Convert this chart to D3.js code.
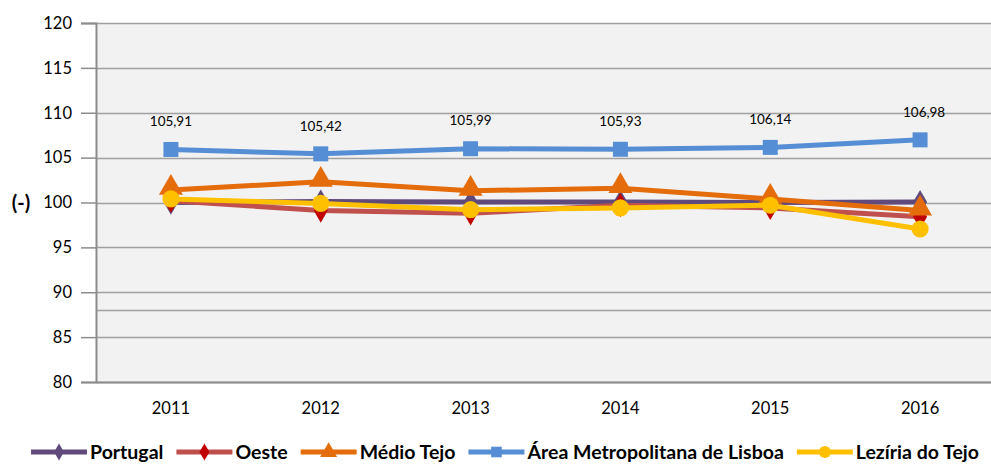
<!DOCTYPE html>
<html><head><meta charset="utf-8">
<script src="https://cdn.jsdelivr.net/npm/d3@7"></script>
<style>body{margin:0;background:#fff}svg{display:block}</style>
</head><body>
<svg id="c" width="991" height="464"></svg>
<script>
const years = ["2011","2012","2013","2014","2015","2016"];
const yTicks = [80,85,90,95,100,105,110,115,120];
const extraGrid = [88];
const portugal = [100.0, 100.1, 100.05, 100.05, 100.0, 100.05];
const oeste = [100.2, 99.1, 98.8, 99.7, 99.4, 98.4];
const medioTejo = [101.4, 102.3, 101.3, 101.6, 100.4, 99.1];
const lisboa = [105.91, 105.42, 105.99, 105.93, 106.14, 106.98];
const leziria = [100.4, 99.9, 99.2, 99.4, 99.7, 97.05];
const lisboaLabels = ["105,91","105,42","105,99","105,93","106,14","106,98"];

const series = [
  {name:"Portugal", values:portugal, color:"#604a7b", mcolor:"#604a7b", marker:"diamond"},
  {name:"Oeste", values:oeste, color:"#c0504d", mcolor:"#c00000", marker:"diamond"},
  {name:"Médio Tejo", values:medioTejo, color:"#e46c0a", mcolor:"#e46c0a", marker:"triangle"},
  {name:"Área Metropolitana de Lisboa", values:lisboa, color:"#558ed5", mcolor:"#558ed5", marker:"square"},
  {name:"Lezíria do Tejo", values:leziria, color:"#ffc000", mcolor:"#ffc000", marker:"circle"}
];

const svg = d3.select("#c");
const L = 96, R = 995, T = 23, B = 382;
const x = d3.scaleBand().domain(years).range([L, R]);
const cx = d => x(d) + x.bandwidth()/2;
const y = d3.scaleLinear().domain([80,120]).range([B, T]);
const font = "Lato, 'Open Sans', sans-serif";

svg.append("rect").attr("x", L).attr("y", T).attr("width", R-L).attr("height", B-T).attr("fill", "#f2f2f2");

// gridlines
svg.append("g").selectAll("line").data(yTicks.concat(extraGrid)).join("line")
  .attr("x1", L).attr("x2", R).attr("y1", d=>Math.round(y(d))+0.5).attr("y2", d=>Math.round(y(d))+0.5)
  .attr("stroke", "#a0a0a0").attr("stroke-width", 1.5);

// y axis
const ya = svg.append("g").attr("transform", `translate(${L},0)`)
  .call(d3.axisLeft(y).tickValues(yTicks).tickSize(15).tickPadding(9).tickFormat(d3.format("d")));
ya.select(".domain").attr("stroke", "#8c8c8c").attr("stroke-width", 2);
ya.selectAll(".tick line").attr("stroke", "#8c8c8c").attr("stroke-width", 1.5);
ya.selectAll("text").attr("font-family", font).attr("font-size", 16.5).attr("fill", "#000");

// x axis
const xa = svg.append("g").attr("transform", `translate(0,${B})`)
  .call(d3.axisBottom(x).tickSize(0).tickPadding(20));
xa.select(".domain").attr("stroke", "#8c8c8c").attr("stroke-width", 2);
xa.selectAll("text").attr("font-family", font).attr("font-size", 16.5).attr("fill", "#000");

svg.append("text").attr("x", 21).attr("y", y(100)).attr("dy", "0.35em").attr("text-anchor", "middle")
  .attr("font-family", font).attr("font-weight", "bold").attr("font-size", 20).text("(-)");

function markerPath(type, size) {
  const m = {diamond:d3.symbolDiamond, triangle:d3.symbolTriangle, square:d3.symbolSquare, circle:d3.symbolCircle}[type];
  return d3.symbol().type(m).size(size)();
}
const msize = {diamond:170, triangle:250, square:225, circle:230};

const line = d3.line().x((d,i)=>cx(years[i])).y(d=>y(d));
series.forEach(s => {
  const g = svg.append("g");
  g.append("path").attr("d", line(s.values)).attr("fill", "none").attr("stroke", s.color)
    .attr("stroke-width", 5).attr("stroke-linejoin", "round");
  g.selectAll("path.m").data(s.values).join("path").attr("class", "m")
    .attr("transform", (d,i)=>`translate(${cx(years[i])},${y(d) + (s.marker==="triangle"?-2:0)})`)
    .attr("d", markerPath(s.marker, msize[s.marker])).attr("fill", s.mcolor);
});

// data labels for Lisboa
svg.append("g").selectAll("text").data(lisboa).join("text")
  .attr("x", (d,i)=>cx(years[i]) + (i===5?4:0)).attr("y", d=>y(d)-28).attr("dy", "0.35em").attr("text-anchor", "middle")
  .attr("font-family", font).attr("font-size", 13.5).attr("fill", "#000")
  .text((d,i)=>lisboaLabels[i]);

// legend
const lg = svg.append("g");
let lx = 0;
series.forEach(s => {
  const g = lg.append("g");
  g.append("line").attr("x1", 0).attr("x2", 56).attr("y1", 0).attr("y2", 0).attr("stroke", s.color).attr("stroke-width", 5);
  g.append("path").attr("transform", "translate(28,0)").attr("d", markerPath(s.marker, msize[s.marker]*0.5)).attr("fill", s.mcolor);
  const t = g.append("text").attr("x", 59).attr("dy", "0.35em").attr("font-family", font).attr("font-weight", "bold")
    .attr("font-size", 19.5).text(s.name);
  const w = 59 + t.node().getComputedTextLength();
  g.attr("transform", `translate(${lx},0)`);
  lx += w + 13;
});
const total = lx - 13;
lg.attr("transform", `translate(${(32+978)/2 - total/2},452)`);
</script>
</body></html>
